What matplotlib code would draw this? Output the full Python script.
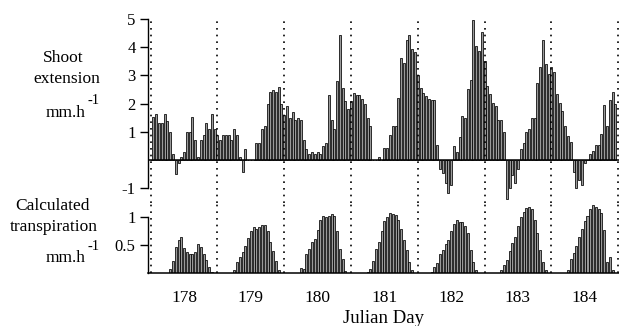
import matplotlib
matplotlib.use("Agg")
import matplotlib.pyplot as plt
import numpy as np

plt.rcParams['font.family'] = ['Liberation Serif', 'DejaVu Serif']

days = [178, 179, 180, 181, 182, 183, 184]
day_labels = ["178", "179", "180", "181", "182", "183", "184"]

# Shoot extension (mm/h), hourly values h0..h23 per day
shoot_178 = [0.0, 1.52, 1.62, 1.3, 1.3, 1.62, 1.4, 0.98, 0.2, -0.5, -0.1, 0.1,
             0.3, 1.0, 1.0, 1.52, 0.7, 0.1, 0.7, 0.9, 1.3, 1.1, 1.62, 1.1]
shoot_179 = [0.9, 0.7, 0.9, 0.9, 0.9, 0.7, 1.1, 0.9, 0.12, -0.41, 0.4, 0.0,
             0.0, 0.0, 0.6, 0.6, 1.1, 1.2, 2.0, 2.4, 2.5, 2.4, 2.6, 2.0]
shoot_180 = [1.6, 1.9, 1.5, 1.7, 1.41, 1.5, 1.41, 0.7, 0.4, 0.21, 0.3, 0.21,
             0.3, 0.21, 0.5, 0.6, 2.3, 1.41, 1.1, 2.8, 4.42, 2.55, 2.1, 1.8]
shoot_181 = [2.1, 2.38, 2.32, 2.32, 2.17, 2.0, 1.5, 1.2, 0.0, 0.0, 0.12, 0.0,
             0.42, 0.42, 0.9, 1.2, 1.2, 2.2, 3.63, 3.44, 4.24, 4.44, 3.93, 3.84]
shoot_182 = [3.0, 2.57, 2.38, 2.27, 2.17, 2.12, 2.12, 0.55, -0.3, -0.46, -0.8, -1.18,
             -0.88, 0.5, 0.28, 0.81, 1.58, 1.5, 2.52, 2.85, 4.97, 4.06, 3.86, 4.53]
shoot_183 = [3.5, 2.61, 2.33, 2.02, 1.9, 1.41, 1.41, 1.0, -1.39, -1.0, -0.52, -0.82,
             -0.33, 0.4, 0.6, 1.0, 1.1, 1.5, 1.5, 2.72, 3.3, 4.24, 3.42, 3.05]
shoot_184 = [3.3, 3.13, 2.33, 2.02, 1.74, 1.22, 0.85, 0.64, -0.42, -1.0, -0.7, -0.87,
             -0.1, 0.0, 0.21, 0.33, 0.52, 0.52, 0.92, 1.95, 1.22, 2.12, 2.42, 1.98]

# Calculated transpiration (mm/h), hourly values h0..h23 per day
transp_178 = [0, 0, 0, 0, 0, 0, 0, 0.08, 0.22, 0.46, 0.59, 0.64,
              0.44, 0.38, 0.34, 0.34, 0.38, 0.51, 0.47, 0.34, 0.23, 0.11, 0.03, 0]
transp_179 = [0, 0, 0, 0, 0, 0, 0.05, 0.2, 0.29, 0.38, 0.49, 0.62,
              0.74, 0.81, 0.79, 0.81, 0.86, 0.86, 0.74, 0.56, 0.4, 0.22, 0.05, 0]
transp_180 = [0, 0, 0, 0, 0, 0, 0.1, 0.07, 0.34, 0.43, 0.55, 0.6,
              0.76, 0.95, 1.01, 1.0, 1.01, 1.04, 1.02, 0.74, 0.43, 0.25, 0.04, 0]
transp_181 = [0, 0, 0, 0, 0, 0, 0.02, 0.08, 0.22, 0.43, 0.56, 0.74,
              0.93, 1.0, 1.07, 1.04, 1.03, 0.95, 0.78, 0.59, 0.41, 0.2, 0.05, 0]
transp_182 = [0, 0, 0, 0, 0, 0.02, 0.11, 0.19, 0.34, 0.41, 0.51, 0.58,
              0.74, 0.87, 0.94, 0.91, 0.91, 0.84, 0.71, 0.41, 0.2, 0.05, 0, 0]
transp_183 = [0, 0, 0, 0, 0, 0, 0.05, 0.14, 0.23, 0.4, 0.53, 0.65,
              0.83, 0.99, 1.08, 1.16, 1.18, 1.13, 0.95, 0.71, 0.41, 0.2, 0.05, 0]
transp_184 = [0, 0, 0, 0, 0, 0, 0.05, 0.26, 0.35, 0.49, 0.65, 0.78,
              0.92, 1.02, 1.14, 1.21, 1.18, 1.13, 1.07, 0.76, 0.2, 0.29, 0.05, 0]

shoot = [shoot_178, shoot_179, shoot_180, shoot_181, shoot_182, shoot_183, shoot_184]
transp = [transp_178, transp_179, transp_180, transp_181, transp_182, transp_183, transp_184]

t = np.concatenate([d + np.arange(24) / 24.0 for d in days])
s_vals = np.concatenate(shoot)
tr_vals = np.concatenate(transp)

W_px, H_px = 619, 326
fig = plt.figure(figsize=(W_px / 100, H_px / 100), dpi=100)

left = 148 / W_px
width = 1 - left
xlim = (178 - 2.7 / 67, 185 + 0.9 / 67)

# top axes: pixel rows 17..203
ax1 = fig.add_axes([left, 1 - 203 / H_px, width, 186 / H_px])
# bottom axes: pixel rows 203..273.3
ax2 = fig.add_axes([left, 1 - 273.3 / H_px, width, 70.3 / H_px])

bw = 0.72 / 24
bar_kw = dict(width=bw, color='#9a9a9a', edgecolor='black', linewidth=0.55, zorder=2)

ax1.bar(t, s_vals, **bar_kw)
ax2.bar(t, tr_vals, **bar_kw)

ax1.set_ylim(-1.52, 5.07)
ax2.set_ylim(0, 1.242)
for ax in (ax1, ax2):
    ax.set_xlim(*xlim)
    for d in days + [185]:
        ax.axvline(d, color='black', linestyle=(0, (1, 3)), linewidth=1.2, zorder=3)
    for sp in ('top', 'right'):
        ax.spines[sp].set_visible(False)
    ax.spines['left'].set_linewidth(1.0)
    ax.tick_params(axis='y', direction='out', length=6, width=1.0, labelsize=12, pad=3)
    ax.set_facecolor('none')

ax1.spines['bottom'].set_visible(False)
ax1.spines['left'].set_bounds(-1, 5)
ax1.axhline(0, color='black', linewidth=1.1, zorder=4)
ax1.set_yticks([-1, 1, 2, 3, 4, 5])
ax1.set_yticklabels(["-1", "1", "2", "3", "4", "5"])
ax1.set_xticks([])

ax2.spines['left'].set_bounds(0, 1)
ax2.spines['bottom'].set_linewidth(1.1)
ax2.set_yticks([0.5, 1])
ax2.set_yticklabels(["0.5", "1"])
ax2.set_xticks([d + 0.5 for d in days])
ax2.set_xticklabels(day_labels)
ax2.tick_params(axis='x', length=0, labelsize=12.5, pad=12)
ax2.set_xlabel("Julian Day", fontsize=13.5, labelpad=3)

def ftext(xp, yp, s, size=12.5, ha='center'):
    fig.text(xp / W_px, 1 - yp / H_px, s, fontsize=size, ha=ha, va='center')

ftext(63, 58, "Shoot")
ftext(67, 79, "extension")
ftext(66, 113, "mm.h")
ftext(94, 100, "-1", size=10.5)
ftext(53, 206, "Calculated")
ftext(54, 227, "transpiration")
ftext(66, 258, "mm.h")
ftext(94, 246, "-1", size=10.5)

fig.savefig("out.png", dpi=100)
